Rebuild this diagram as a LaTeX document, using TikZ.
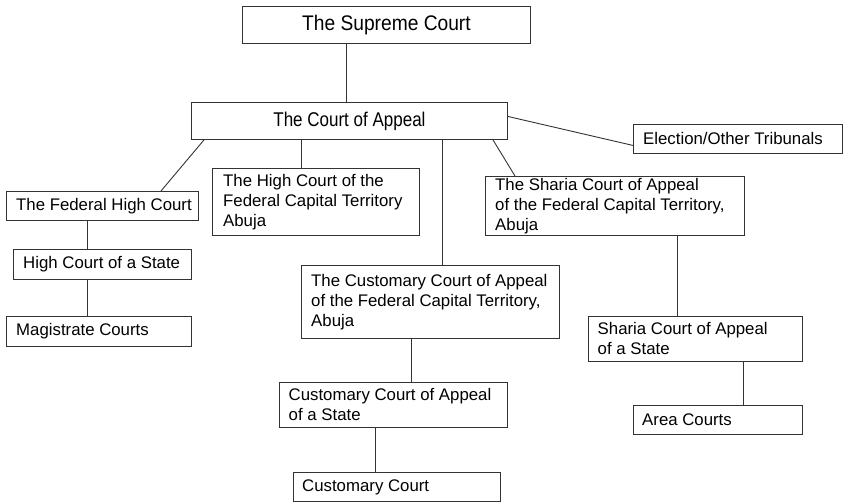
\documentclass[tikz,border=0pt]{standalone}
\usepackage{fontspec}
\setmainfont{Liberation Sans}
\usetikzlibrary{calc}
\begin{document}
\begin{tikzpicture}[x=1pt,y=-1pt,
  box/.style={draw=black!80, line width=0.9pt, anchor=north west, inner sep=0pt},
  txt/.style={anchor=west, inner sep=0pt, align=left, font=\fontsize{16.8}{20}\selectfont},
  topbox/.style={draw=black!80, line width=0.9pt, anchor=north west, inner sep=0pt, align=center},
  conn/.style={draw=black!80, line width=0.9pt}]
\useasboundingbox (0,0) rectangle (843,502);
% top boxes
\node[topbox, minimum width=288pt, minimum height=37pt] (sup) at (242,6)
  {\scalebox{1}[1.1]{\fontsize{19.2}{22}\selectfont The Supreme Court}};
\node[topbox, minimum width=316pt, minimum height=37pt] (coa) at (191,102)
  {\scalebox{1}[1.17]{\fontsize{17}{20}\selectfont The Court of Appeal}};
% boxes
\node[box, minimum width=209pt, minimum height=29pt] (elec) at (633,124) {};
\node[box, minimum width=192pt, minimum height=29pt] (fhc) at (6,191) {};
\node[box, minimum width=207pt, minimum height=67pt] (hcfct) at (212,168) {};
\node[box, minimum width=259pt, minimum height=59pt] (sfct) at (485,176) {};
\node[box, minimum width=258pt, minimum height=73pt] (cfct) at (301,265) {};
\node[box, minimum width=178pt, minimum height=30pt] (hcs) at (13,249) {};
\node[box, minimum width=185pt, minimum height=30pt] (mag) at (6,316) {};
\node[box, minimum width=214pt, minimum height=45pt] (sst) at (588,316) {};
\node[box, minimum width=169pt, minimum height=29pt] (area) at (633,405) {};
\node[box, minimum width=228pt, minimum height=45pt] (cst) at (279,382) {};
\node[box, minimum width=207pt, minimum height=29pt] (cc) at (293,472) {};
% texts
\node[txt] (t-elec) at ($(elec.west)+(10,0)$) {Election/Other Tribunals};
\node[txt] (t-fhc) at ($(fhc.west)+(10,0)$) {The Federal High Court};
\node[txt] (t-hcfct) at ($(hcfct.west)+(11,0)$) {The High Court of the\\Federal Capital Territory\\Abuja};
\node[txt] (t-sfct) at ($(sfct.west)+(10,0)$) {The Sharia Court of Appeal\\of the Federal Capital Territory,\\Abuja};
\node[txt] (t-cfct) at ($(cfct.west)+(10,0)$) {The Customary Court of Appeal\\of the Federal Capital Territory,\\Abuja};
\node[txt] (t-hcs) at ($(hcs.west)+(10,0)$) {High Court of a State};
\node[txt] (t-mag) at ($(mag.west)+(10,0)$) {Magistrate Courts};
\node[txt] (t-sst) at ($(sst.west)+(9.5,0)$) {Sharia Court of Appeal\\of a State};
\node[txt] (t-area) at ($(area.west)+(9,0)$) {Area Courts};
\node[txt] (t-cst) at ($(cst.west)+(9.5,0)$) {Customary Court of Appeal\\of a State};
\node[txt] (t-cc) at ($(cc.west)+(9,0)$) {Customary Court};
% connectors
\draw[conn] ($(sup.south west)+(104,0)$) -- ($(coa.north west)+(155,0)$);
\draw[conn] ($(coa.east)+(0,-4.5)$) -- ($(elec.west)+(0,6.5)$);
\draw[conn] ($(coa.south west)+(13,0)$) -- ($(fhc.north west)+(155,0)$);
\draw[conn] ($(coa.south west)+(110,0)$) -- ($(hcfct.north west)+(89,0)$);
\draw[conn] ($(coa.south west)+(251,0)$) -- ($(cfct.north west)+(141,0)$);
\draw[conn] ($(coa.south west)+(302,0)$) -- ($(sfct.north west)+(30,0)$);
\draw[conn] ($(fhc.south west)+(81,0)$) -- ($(hcs.north west)+(74,0)$);
\draw[conn] ($(hcs.south west)+(74,0)$) -- ($(mag.north west)+(81,0)$);
\draw[conn] ($(cfct.south west)+(110,0)$) -- ($(cst.north west)+(132,0)$);
\draw[conn] ($(cst.south west)+(96,0)$) -- ($(cc.north west)+(82,0)$);
\draw[conn] ($(sfct.south west)+(192,0)$) -- ($(sst.north west)+(89,0)$);
\draw[conn] ($(sst.south west)+(155,0)$) -- ($(area.north west)+(110,0)$);
\end{tikzpicture}
\end{document}
